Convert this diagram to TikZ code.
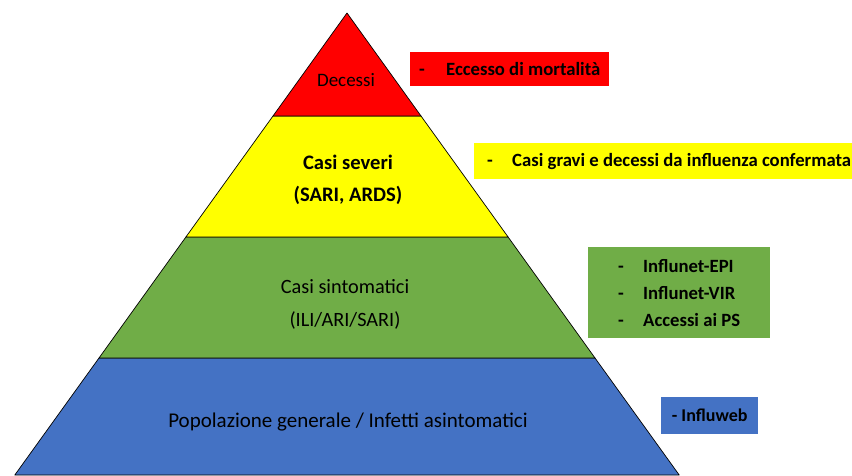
\documentclass[tikz,border=0pt]{standalone}
\usepackage{fontspec}
\setmainfont{Carlito}
\definecolor{pred}{HTML}{FF0000}
\definecolor{pyel}{HTML}{FFFF00}
\definecolor{pgrn}{HTML}{70AD47}
\definecolor{pblu}{HTML}{4472C4}
\begin{document}
\begin{tikzpicture}[x=1pt,y=-1pt,
  band/.style={draw=black,line width=0.7pt,line join=round},
  lbl/.style={align=center,inner sep=0pt},
  infobox/.style={anchor=north west,inner ysep=0pt,align=left,font=\bfseries\fontsize{18.7}{27}\selectfont}]
\useasboundingbox (0,0) rectangle (852,475);
\fill[white] (0,0) rectangle (852,475);
% coordinates of band corners
\coordinate (apex) at (347,13);
\coordinate (l1) at (273,116);   \coordinate (r1) at (421,116);
\coordinate (l2) at (185.9,237); \coordinate (r2) at (508.1,237);
\coordinate (l3) at (99,358);    \coordinate (r3) at (595,358);
\coordinate (l4) at (14.8,475);  \coordinate (r4) at (679.2,475);
% bands
\draw[band,fill=pblu] (l3) -- (r3) -- (r4) -- (l4) -- cycle;
\draw[band,fill=pgrn] (l2) -- (r2) -- (r3) -- (l3) -- cycle;
\draw[band,fill=pyel] (l1) -- (r1) -- (r2) -- (l2) -- cycle;
\draw[band,fill=pred] (apex) -- (r1) -- (l1) -- cycle;
% band labels
\node[lbl,font=\fontsize{19}{32}\selectfont] (dec) at (346,80) {Decessi};
\node[lbl,font=\bfseries\fontsize{20.6}{32}\selectfont] (sev) at (348,180) {Casi severi\\(SARI, ARDS)};
\node[lbl,font=\fontsize{20.3}{33}\selectfont] (sint) at (345,304) {Casi sintomatici\\(ILI/ARI/SARI)};
\node[lbl,font=\fontsize{21}{32}\selectfont] (pop) at (348,422) {Popolazione generale / Infetti asintomatici};
% info boxes
\node[infobox,fill=pred,minimum width=199,minimum height=34,inner xsep=8pt] (bred) at (410,52)
  {\makebox[27pt][l]{-}Eccesso di mortalità};
\node[infobox,fill=pyel,minimum width=390,minimum height=36,inner xsep=8pt] (byel) at (474,143)
  {\makebox[25pt][l]{-}Casi gravi e decessi da influenza confermata};
\node[infobox,fill=pgrn,minimum width=182,minimum height=91,inner xsep=9pt] (bgrn) at (588,247)
  {\makebox[25pt][l]{-}Influnet-EPI\\\makebox[25pt][l]{-}Influnet-VIR\\\makebox[25pt][l]{-}Accessi ai PS};
\node[infobox,fill=pblu,minimum width=97,minimum height=37,inner xsep=8pt,font=\bfseries\fontsize{18}{27}\selectfont] (bblu) at (661,397)
  {- Influweb};
\end{tikzpicture}
\end{document}
